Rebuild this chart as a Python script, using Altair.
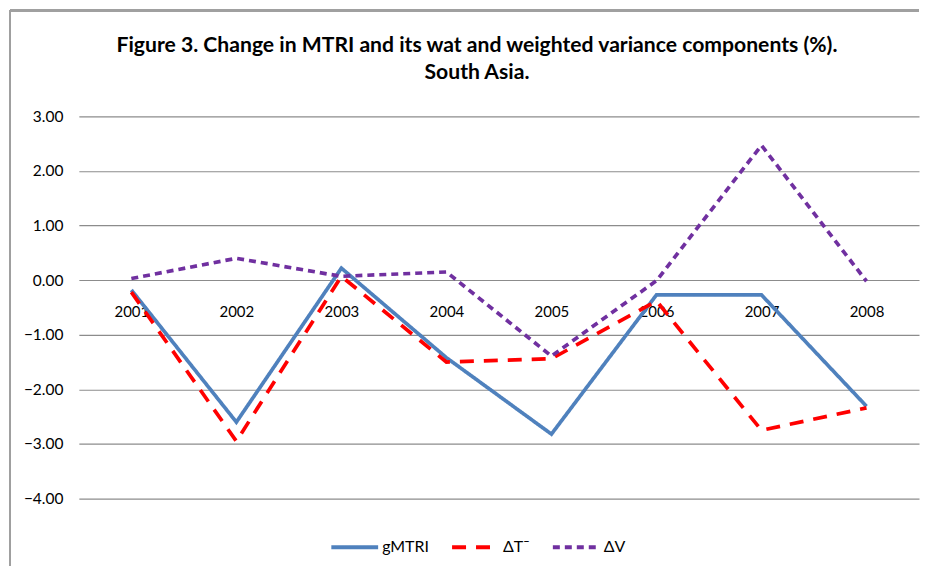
import altair as alt
import pandas as pd

years = ["2001", "2002", "2003", "2004", "2005", "2006", "2007", "2008"]
g_mtri = [-0.18, -2.60, 0.22, -1.42, -2.82, -0.27, -0.27, -2.31]
delta_t = [-0.22, -2.95, 0.07, -1.50, -1.44, -0.38, -2.75, -2.34]
delta_v = [0.03, 0.40, 0.07, 0.15, -1.39, -0.01, 2.47, -0.02]

series_names = ["gMTRI", "ΔT¯", "ΔV"]
series_colors = ["#4F81BD", "#FF0000", "#7030A0"]
series_dashes = [[1, 0], [14, 10], [7, 5]]
y_ticks = [3, 2, 1, 0, -1, -2, -3, -4]
title_lines = ["Figure 3. Change in MTRI and its  wat and weighted variance components (%).", "South Asia."]

rows = []
for name, vals in zip(series_names, [g_mtri, delta_t, delta_v]):
    for yr, v in zip(years, vals):
        rows.append({"year": yr, "value": v, "series": name})
df = pd.DataFrame(rows)

FONT = "Lato"
W, H = 842, 383

lines = alt.Chart(df).mark_line(strokeWidth=3.7, strokeCap="butt", strokeJoin="miter").encode(
    x=alt.X("year:O", sort=years, scale=alt.Scale(type="point", padding=0.5),
            axis=alt.Axis(title=None, orient="bottom", offset=-219, domain=False, ticks=False,
                          labelAngle=0, labelPadding=25, labelFont=FONT, labelFontSize=15,
                          labelColor="#000000", grid=False)),
    y=alt.Y("value:Q", scale=alt.Scale(domain=[-4, 3], nice=False, zero=False),
            axis=alt.Axis(title=None, values=y_ticks, format=".2f", domain=False, ticks=False,
                          labelPadding=16, labelFont=FONT, labelFontSize=15.5, labelColor="#000000",
                          grid=True, gridColor="#8C8C8C", gridWidth=1.2)),
    color=alt.Color("series:N", scale=alt.Scale(domain=series_names, range=series_colors),
                    legend=alt.Legend(title=None, orient="none", legendX=251, legendY=406,
                                      direction="horizontal",
                                      symbolType="stroke", symbolSize=2200, symbolStrokeWidth=4,
                                      labelFont=FONT, labelFontSize=16, labelColor="#000000",
                                      labelOffset=2, columnPadding=15)),
    strokeDash=alt.StrokeDash("series:N", scale=alt.Scale(domain=series_names, range=series_dashes),
                              legend=None),
    detail="series:N",
)

frame_top = alt.Chart(df).mark_rule(color="#A0A0A0", strokeWidth=2).encode(
    x=alt.value(-69), x2=alt.value(W), y=alt.value(-106))
frame_left = alt.Chart(df).mark_rule(color="#A0A0A0", strokeWidth=2).encode(
    x=alt.value(-69), y=alt.value(-106), y2=alt.value(H + 67))

title1 = alt.Chart(pd.DataFrame({"t": [title_lines[0]]})).mark_text(
    font=FONT, fontSize=21.2, fontWeight="bold", color="#000000", align="center", baseline="middle"
).encode(text="t:N", x=alt.value(399), y=alt.value(-71))
title2 = alt.Chart(pd.DataFrame({"t": [title_lines[1]]})).mark_text(
    font=FONT, fontSize=21.2, fontWeight="bold", color="#000000", align="center", baseline="middle"
).encode(text="t:N", x=alt.value(399), y=alt.value(-43))

chart = alt.layer(frame_top, frame_left, title1, title2, lines).properties(
    width=W, height=H,
    padding={"left": 1, "top": 1, "right": 0, "bottom": 0},
).configure_view(stroke=None)

chart.save("out.html", embed_options={"renderer": "svg", "actions": False})
